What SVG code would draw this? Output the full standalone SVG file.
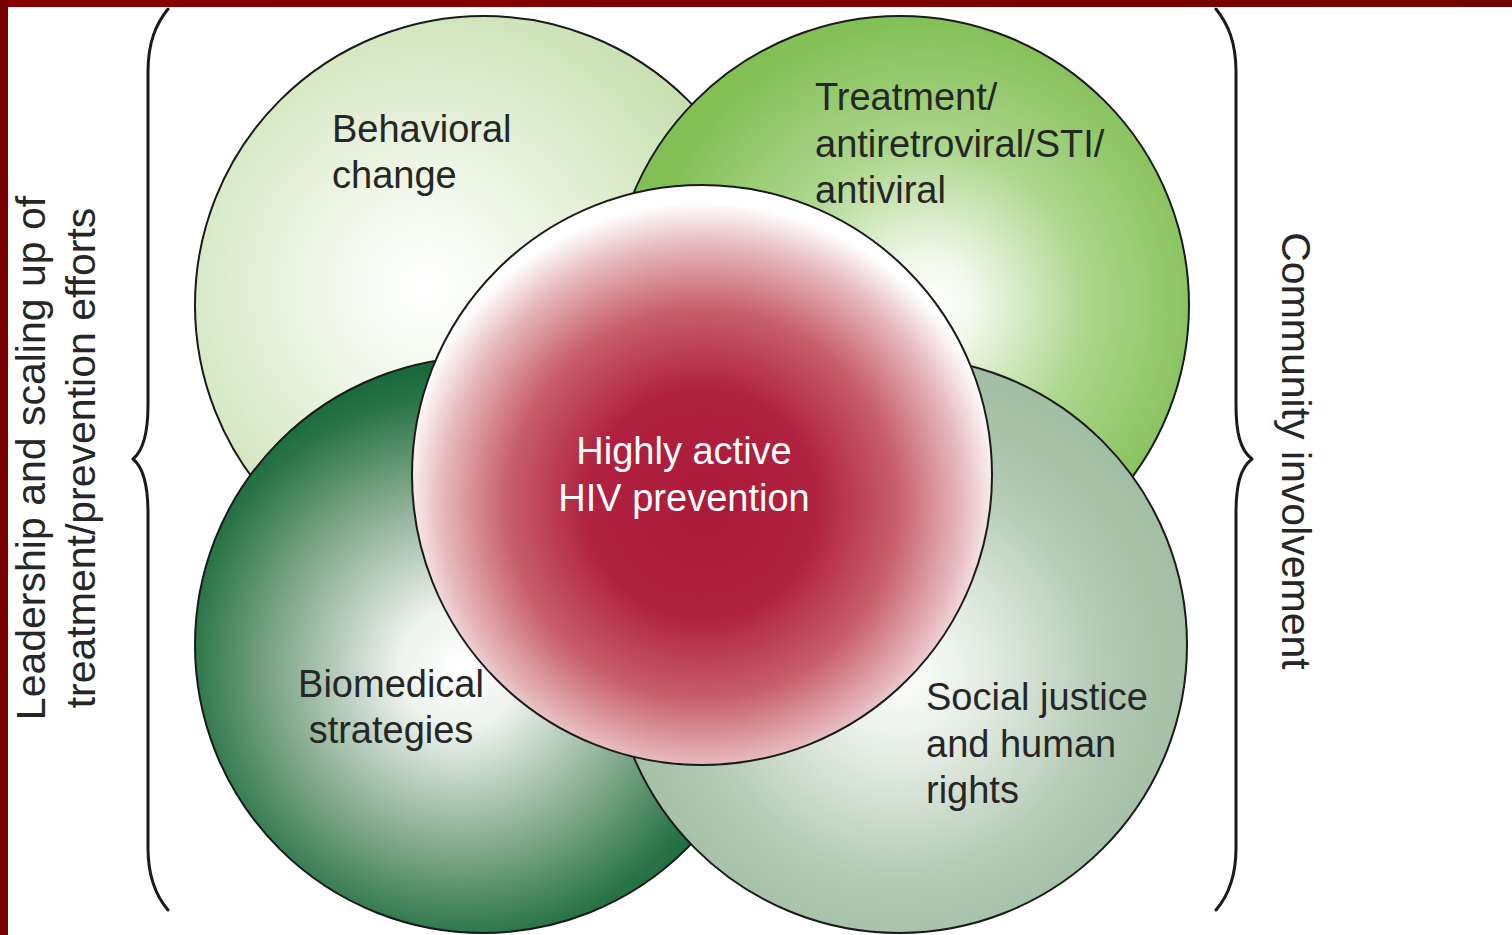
<svg xmlns="http://www.w3.org/2000/svg" width="1512" height="935" viewBox="0 0 1512 935">
<defs>
<linearGradient id="topbar" x1="0" y1="0" x2="1" y2="0"><stop offset="0" stop-color="#8a0000"/><stop offset="1" stop-color="#730000"/></linearGradient>
<radialGradient id="gTL" cx="0.4" cy="0.47" r="0.55"><stop offset="0" stop-color="#ffffff"/><stop offset="0.25" stop-color="#f5faf0"/><stop offset="1" stop-color="#c8e0b0"/></radialGradient>
<radialGradient id="gTR" cx="0.55" cy="0.5" r="0.5"><stop offset="0" stop-color="#ffffff"/><stop offset="0.15" stop-color="#f4f9ee"/><stop offset="0.55" stop-color="#acd68c"/><stop offset="1" stop-color="#82bf55"/></radialGradient>
<radialGradient id="gBL" cx="0.46" cy="0.54" r="0.52"><stop offset="0" stop-color="#ffffff"/><stop offset="0.2" stop-color="#eef3ee"/><stop offset="0.6" stop-color="#84aa8e"/><stop offset="0.9" stop-color="#2a7548"/><stop offset="1" stop-color="#1a6b3c"/></radialGradient>
<radialGradient id="gBR" cx="0.5" cy="0.55" r="0.52"><stop offset="0" stop-color="#ffffff"/><stop offset="0.3" stop-color="#e2ebe2"/><stop offset="0.7" stop-color="#b2c9b3"/><stop offset="1" stop-color="#a2bea4"/></radialGradient>
<radialGradient id="gRed" cx="0.5" cy="0.55" r="0.52"><stop offset="0" stop-color="#ac1a3a"/><stop offset="0.38" stop-color="#b0223f"/><stop offset="0.65" stop-color="#c8606c"/><stop offset="0.86" stop-color="#e6b8bc"/><stop offset="1" stop-color="#ffffff"/></radialGradient>
</defs>
<style>
.c{stroke:#1a1a1a;stroke-width:2}
.t{font-family:"Liberation Sans",Arial,sans-serif;font-size:38px;fill:#262626}
.w{fill:#ffffff}
.s{font-family:"Liberation Sans",Arial,sans-serif;font-size:41px;fill:#262626}
.b{fill:none;stroke:#1a1a1a;stroke-width:3;stroke-linecap:round;stroke-linejoin:round}
</style>
<rect x="0" y="0" width="1512" height="935" fill="#ffffff"/>
<rect x="0" y="0" width="1512" height="7" fill="url(#topbar)"/>
<rect x="0" y="0" width="8" height="935" fill="#7a0000"/>

<g id="behavioral">
<circle class="c" cx="484" cy="305" r="289" fill="url(#gTL)"/>
<text class="t" x="332" y="142">Behavioral</text>
<text class="t" x="332" y="188">change</text>
</g>
<g id="treatment">
<circle class="c" cx="900" cy="305" r="289" fill="url(#gTR)"/>
<text class="t" x="815" y="110">Treatment/</text>
<text class="t" x="815" y="157">antiretroviral/STI/</text>
<text class="t" x="815" y="203">antiviral</text>
</g>
<g id="biomedical">
<circle class="c" cx="483" cy="645" r="288" fill="url(#gBL)"/>
<text class="t" x="391" y="697" text-anchor="middle">Biomedical</text>
<text class="t" x="391" y="743" text-anchor="middle">strategies</text>
</g>
<g id="social">
<circle class="c" cx="899" cy="645" r="288" fill="url(#gBR)"/>
<text class="t" x="926" y="710">Social justice</text>
<text class="t" x="926" y="757">and human</text>
<text class="t" x="926" y="803">rights</text>
</g>
<g id="center">
<circle class="c" cx="702" cy="475" r="290" fill="url(#gRed)"/>
<text class="t w" x="684" y="464" text-anchor="middle">Highly active</text>
<text class="t w" x="684" y="511" text-anchor="middle">HIV prevention</text>
</g>

<g id="left-brace">
<path class="b" d="M168,9 C156,24 148,42 148,72 L148,405 C148,432 144,450 133,459 C144,468 148,486 148,513 L148,848 C148,878 156,896 168,910"/>
<text class="s" transform="translate(45,458) rotate(-90)" text-anchor="middle">Leadership and scaling up of</text>
<text class="s" transform="translate(95,458) rotate(-90)" text-anchor="middle">treatment/prevention efforts</text>
</g>
<g id="right-brace">
<path class="b" d="M1216,9 C1228,24 1236,42 1236,72 L1236,405 C1236,432 1240,450 1252,459 C1240,468 1236,486 1236,513 L1236,848 C1236,878 1228,896 1216,910"/>
<text class="s" transform="translate(1282,451) rotate(90)" text-anchor="middle">Community involvement</text>
</g>
<g id="connectors"></g>
</svg>
